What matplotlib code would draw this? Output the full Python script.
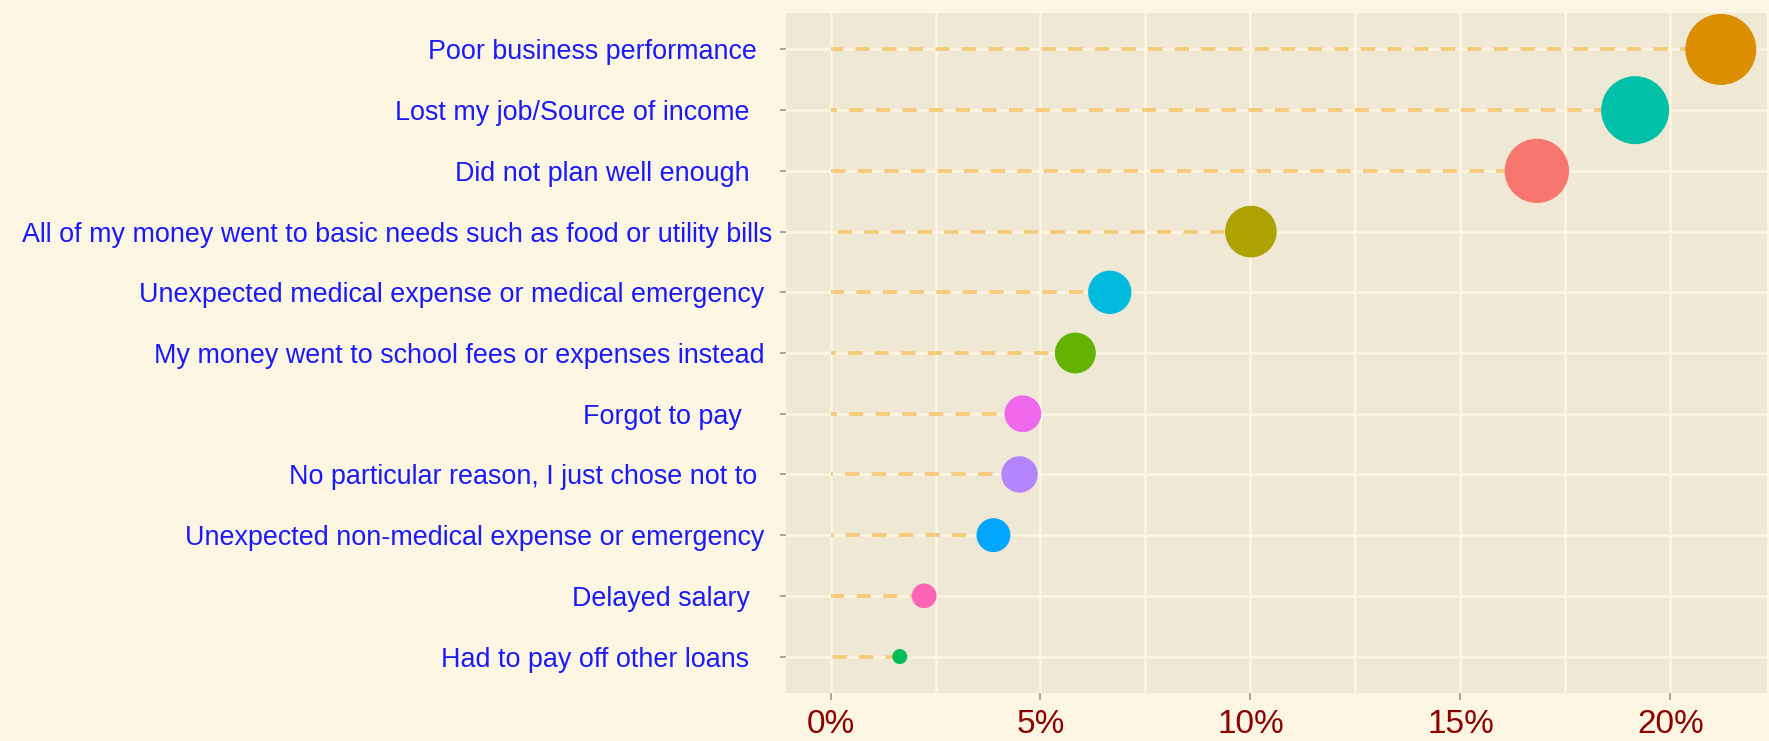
import numpy as np
import matplotlib
matplotlib.use("Agg")
import matplotlib.pyplot as plt
from matplotlib.ticker import FuncFormatter, FixedLocator

# Data (top to bottom as shown)
reasons = [
    "Poor business performance  ",
    "Lost my job/Source of income   ",
    "Did not plan well enough   ",
    "All of my money went to basic needs such as food or utility bills",
    "Unexpected medical expense or medical emergency ",
    "My money went to school fees or expenses instead ",
    "Forgot to pay    ",
    "No particular reason, I just chose not to  ",
    "Unexpected non-medical expense or emergency ",
    "Delayed salary   ",
    "Had to pay off other loans   ",
]
values = [21.2, 19.16, 16.82, 10.01, 6.65, 5.83, 4.58, 4.50, 3.88, 2.23, 1.65]
colors = ["#DB8E00", "#00C1A7", "#F8766D", "#AEA200", "#00BADE", "#64B200",
          "#EF67EB", "#B385FF", "#00A6FF", "#FF63B6", "#00BD5C"]
x_ticks = [0, 5, 10, 15, 20]
x_minor = [2.5, 7.5, 12.5, 17.5]

DPI = 100
PT = 72 / DPI  # points per pixel
fig = plt.figure(figsize=(17.69, 7.41), dpi=DPI, facecolor="#FDF6E3")
ax = fig.add_axes([786/1769, 1-693/741, (1767-786)/1769, (693-13)/741])
ax.set_facecolor("#EEE8D5")

n = len(reasons)
ypos = np.arange(n, 0, -1)  # top row = n

vals = np.array(values)
vmin, vmax = vals.min(), vals.max()
r_px = 7.5 + 28 * np.sqrt((vals - vmin) / (vmax - vmin))
sizes = (2 * r_px * PT) ** 2

lw_px = 3.8
for v, y in zip(values, ypos):
    ax.plot([v, 0], [y, y], color="#F7CA7B", lw=lw_px*PT, zorder=2,
            linestyle=(0, (14.3/lw_px, 12.3/lw_px)), dash_capstyle="butt")

ax.scatter(values, ypos, s=sizes, c=colors, zorder=3, linewidths=0)

ax.set_xlim(-1.06, 22.3)
ax.set_ylim(0.4, n + 0.6)
ax.xaxis.set_major_locator(FixedLocator(x_ticks))
ax.xaxis.set_minor_locator(FixedLocator(x_minor))
ax.xaxis.set_major_formatter(FuncFormatter(lambda x, p: f"{int(x)}%"))
ax.set_yticks(ypos)
ax.set_yticklabels(reasons)

ax.grid(True, which="major", color="#FDF6E3", lw=1.8, zorder=0)
ax.grid(True, which="minor", axis="x", color="#FDF6E3", lw=1.8, zorder=0)
ax.set_axisbelow(True)
for s in ax.spines.values():
    s.set_visible(False)

ax.tick_params(axis="x", which="major", length=7*PT, width=1.4, color="#A0A8A8",
               labelsize=24, labelcolor="#8B0000", pad=9*PT)
ax.tick_params(axis="x", which="minor", length=0)
ax.tick_params(axis="y", length=6*PT, width=1.4, color="#A0A8A8",
               labelsize=19.4, labelcolor="#1A1AFF", pad=8*PT)
for lab in ax.get_xticklabels():
    lab.set_family(["Liberation Sans", "DejaVu Sans"])
for lab in ax.get_yticklabels():
    lab.set_family(["Liberation Sans", "DejaVu Sans"])

fig.savefig("out.png", dpi=DPI, facecolor=fig.get_facecolor())
